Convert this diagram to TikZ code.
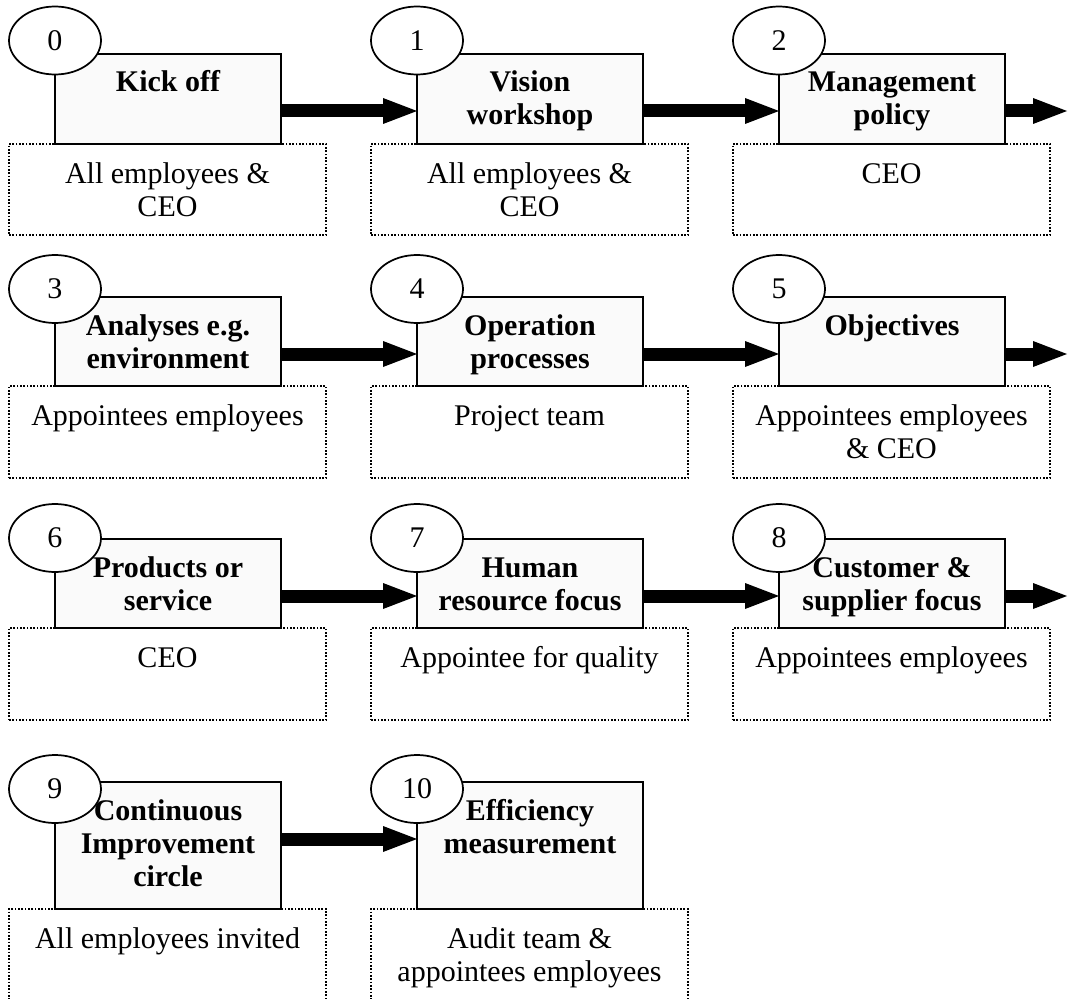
\documentclass[tikz,border=0pt]{standalone}
\usepackage{fontspec}
\setmainfont{Liberation Serif}
\usetikzlibrary{shapes.geometric,arrows.meta,calc}

\tikzset{
  stepbox/.style={draw, line width=1.3pt, fill=black!2, rectangle,
    inner sep=0pt, outer sep=0pt, minimum width=226*0.75pt},
  whobox/.style={draw, line width=0.9pt, dash pattern=on 1.2pt off 1.3pt,
    fill=white, rectangle, inner sep=0pt, outer sep=0pt,
    minimum width=317*0.75pt},
  numoval/.style={draw, line width=1.3pt, fill=white, ellipse,
    inner sep=0pt, minimum width=92*0.75pt, minimum height=68*0.75pt},
  titletext/.style={anchor=base, inner sep=0pt,
    font=\fontsize{22.5pt}{24.75pt}\selectfont\bfseries},
  whotext/.style={anchor=base, inner sep=0pt,
    font=\fontsize{22.5pt}{24.75pt}\selectfont},
  flow/.style={line width=9.75pt,
    -{Triangle[length=25.5pt, width=19.5pt, line width=0pt]}},
}

% one stage: #1 id, #2 box left, #3 box top, #4 box height, #5 oval centre y,
% #6 number, #7 title, #8 people, #9 height of the people box
\newcommand\stagebox[9]{%
  \node[whobox, minimum height=#9*0.75pt, anchor=north west] (w#1) at (#2-46,#3+#4) {};
  \node[stepbox, minimum height=#4*0.75pt, anchor=north west] (s#1) at (#2,#3) {};
  \node[numoval, font=\fontsize{22.5pt}{24.75pt}\selectfont] (n#1) at (#2,#5) {#6};
  \node[titletext] (t#1) at ($(s#1.north)+(0,38)$)
    {\parbox[t]{225pt}{\centering #7}};
  \node[whotext] (p#1) at ($(w#1.north)+(0,39)$)
    {\parbox[t]{225pt}{\centering #8}};
}

\begin{document}
\begin{tikzpicture}[x=0.75pt, y=-0.75pt]
  \useasboundingbox (0,0) rectangle (1068,999);
  \clip (0,0) rectangle (1068,999);

  % row 1
  \stagebox{0}{55}{54}{90}{40.5}{0}{Kick off}{All employees \&\\CEO}{91}
  \stagebox{1}{417}{54}{90}{40.5}{1}{Vision\\workshop}{All employees \&\\CEO}{91}
  \stagebox{2}{779}{54}{90}{40.5}{2}{Management\\policy}{CEO}{91}

  % row 2
  \stagebox{3}{55}{297}{89}{289}{3}{Analyses e.g.\\environment}{Appointees employees}{92}
  \stagebox{4}{417}{297}{89}{289}{4}{Operation\\processes}{Project team}{92}
  \stagebox{5}{779}{297}{89}{289}{5}{Objectives}{Appointees employees\\\& CEO}{92}

  % row 3
  \stagebox{6}{55}{539}{89}{538}{6}{Products or\\service}{CEO}{92}
  \stagebox{7}{417}{539}{89}{538}{7}{Human\\resource focus}{Appointee for quality}{92}
  \stagebox{8}{779}{539}{89}{538}{8}{Customer \&\\supplier focus}{Appointees employees}{92}

  % row 4
  \stagebox{9}{55}{782}{127}{789}{9}{Continuous\\Improvement\\circle}{All employees invited}{100}
  \stagebox{10}{417}{782}{127}{789}{10}{Efficiency\\measurement}{Audit team \&\\appointees employees}{100}

  % free ends of the arrows leaving each row
  \coordinate (e2) at (1067,111);
  \coordinate (e5) at (1067,354);
  \coordinate (e8) at (1067,596);

  % flow arrows
  \draw[flow] ([yshift=-42.75pt]s0.north east) -- ([yshift=-42.75pt]s1.north west);
  \draw[flow] ([yshift=-42.75pt]s1.north east) -- ([yshift=-42.75pt]s2.north west);
  \draw[flow] ([yshift=-42.75pt]s2.north east) -- (e2);
  \draw[flow] ([yshift=-42.75pt]s3.north east) -- ([yshift=-42.75pt]s4.north west);
  \draw[flow] ([yshift=-42.75pt]s4.north east) -- ([yshift=-42.75pt]s5.north west);
  \draw[flow] ([yshift=-42.75pt]s5.north east) -- (e5);
  \draw[flow] ([yshift=-42.75pt]s6.north east) -- ([yshift=-42.75pt]s7.north west);
  \draw[flow] ([yshift=-42.75pt]s7.north east) -- ([yshift=-42.75pt]s8.north west);
  \draw[flow] ([yshift=-42.75pt]s8.north east) -- (e8);
  \draw[flow] ([yshift=-42.75pt]s9.north east) -- ([yshift=-42.75pt]s10.north west);
\end{tikzpicture}
\end{document}
